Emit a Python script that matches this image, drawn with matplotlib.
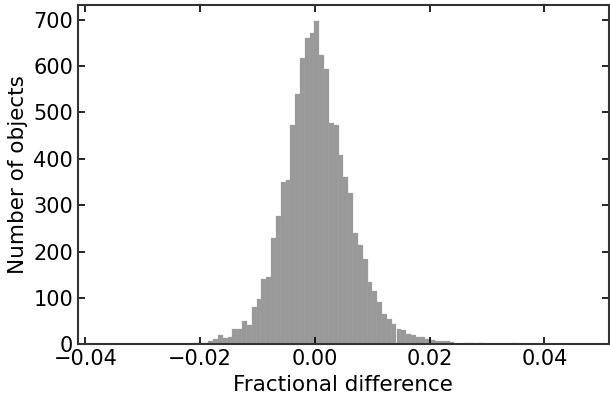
import numpy as np
import matplotlib
matplotlib.use("Agg")
import matplotlib.pyplot as plt

# histogram counts (100 equal bins)
bin_lo = -0.03707
bin_hi = 0.04703
counts = [1, 0, 0, 0, 0, 0, 0, 0, 1, 0,
          0, 0, 0, 0, 0, 1, 0, 1, 1, 2,
          2, 3, 7, 12, 20, 14, 16, 34, 34, 50,
          42, 81, 98, 141, 146, 230, 277, 350, 355, 473,
          539, 618, 661, 672, 697, 623, 593, 478, 473, 409,
          360, 326, 240, 215, 184, 134, 114, 92, 65, 54,
          43, 33, 30, 23, 20, 16, 15, 12, 9, 8,
          8, 7, 5, 1, 1, 3, 3, 1, 2, 1,
          1, 0, 1, 0, 0, 2, 0, 0, 1, 1,
          1, 0, 0, 0, 0, 0, 0, 0, 0, 1]

edges = np.linspace(bin_lo, bin_hi, len(counts) + 1)
centers = 0.5 * (edges[:-1] + edges[1:])

fig = plt.figure(figsize=(6.1, 3.99), dpi=100)
ax = fig.add_axes([0.128, 0.137, 0.87, 0.851])

ax.hist(centers, bins=edges, weights=counts, color='gray', alpha=0.8,
        edgecolor='#aaaaaa', linewidth=0.3)

ax.set_xlabel('Fractional difference', fontsize=15.5)
ax.set_ylabel('Number of objects', fontsize=15.5)
ax.set_xticks([-0.04, -0.02, 0.00, 0.02, 0.04])
ax.set_yticks(range(0, 701, 100))
ax.tick_params(direction='in', top=True, right=True, labelsize=15, length=5, width=1.2)
for s in ax.spines.values():
    s.set_linewidth(1.5)
    s.set_color('#333333')

plt.savefig('out.png', dpi=100)
